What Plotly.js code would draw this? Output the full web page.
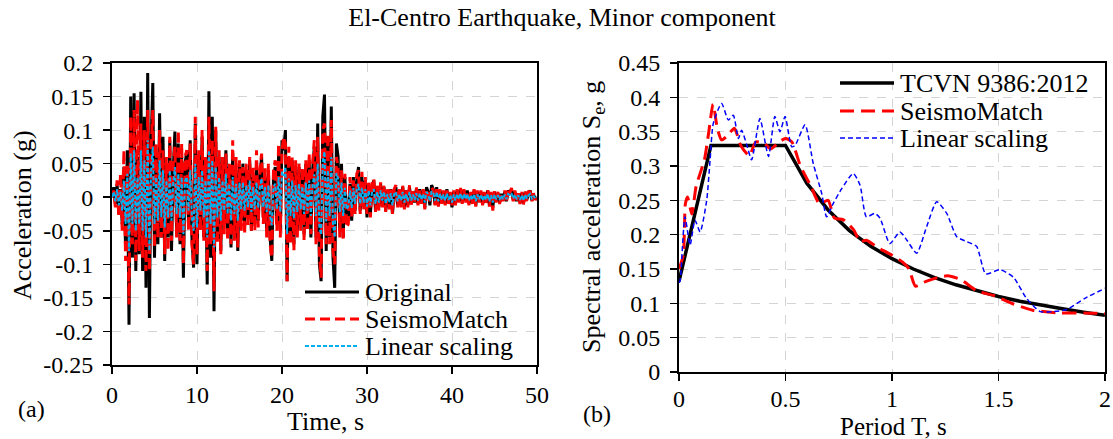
<!DOCTYPE html>
<html><head><meta charset="utf-8">
<script src="https://cdn.plot.ly/plotly-3.0.1.min.js"></script>
<style>html,body{margin:0;padding:0;background:#fff}#chart{width:1113px;height:439px}</style>
</head><body><div id="chart"></div>
<script>
const chartTitle = "El-Centro Earthquake, Minor component";

// ---- Panel (a): acceleration time histories (sampled every 0.2 s from t = 0) ----
const timeStart = 0;
const timeStep = 0.2;
const accOriginal = [
 0.000, 0.015,-0.010, 0.020,-0.025, 0.012,-0.040, 0.045,-0.080, 0.070,
-0.190, 0.150,-0.090, 0.155,-0.110, 0.060,-0.085, 0.157,-0.110, 0.120,
-0.135, 0.185,-0.180, 0.080, 0.170,-0.090, 0.060,-0.070, 0.125,-0.060,
 0.090,-0.095, 0.050,-0.060, 0.085,-0.080, 0.040, 0.098,-0.050, 0.080,
-0.070, 0.060,-0.120, 0.050, 0.070,-0.040, 0.085,-0.060,-0.105, 0.110,
-0.100, 0.060,-0.040, 0.090,-0.060, 0.050,-0.130, 0.158,-0.090, 0.120,
-0.170, 0.100,-0.060, 0.060,-0.080, 0.055,-0.040, 0.070,-0.050, 0.045,
-0.075, 0.065,-0.055, 0.040,-0.080, 0.045,-0.035, 0.050,-0.045, 0.040,
-0.030, 0.055,-0.050, 0.030,-0.040, 0.048,-0.035, 0.030, 0.060,-0.030,
 0.030,-0.050, 0.040,-0.060,-0.095, 0.030, 0.045,-0.040, 0.065,-0.050,
 0.085, 0.070, 0.100,-0.125, 0.060,-0.060, 0.055,-0.070, 0.040,-0.050,
 0.045,-0.040, 0.035,-0.055, 0.050,-0.045, 0.055,-0.060, 0.040, 0.075,
-0.060, 0.110,-0.100,-0.125, 0.120, 0.153,-0.080, 0.090,-0.060, 0.135,
-0.090,-0.135, 0.080, 0.060,-0.050, 0.050,-0.060, 0.030,-0.040,-0.030,
 0.020,-0.035, 0.030,-0.020, 0.025, 0.045,-0.020, 0.030,-0.015, 0.025,
-0.030, 0.020,-0.025, 0.015, 0.025,-0.020, 0.015,-0.015, 0.020,-0.010,
 0.015,-0.020, 0.010,-0.015, 0.012,-0.025, 0.010, 0.015,-0.012, 0.010,
-0.010, 0.015,-0.015, 0.010,-0.012, 0.015,-0.010, 0.008,-0.008, 0.012,
-0.010, 0.012,-0.008, 0.010,-0.015, 0.015, 0.008,-0.012, 0.018, 0.012,
-0.010, 0.015,-0.012, 0.010,-0.008, 0.008,-0.010, 0.012,-0.008, 0.006,
-0.015, 0.008,-0.010, 0.010,-0.006, 0.012,-0.008, 0.010,-0.005, 0.010,
-0.010, 0.006,-0.008, 0.010,-0.012, 0.008,-0.006, 0.008,-0.010, 0.006,
-0.008, 0.010,-0.012, 0.006,-0.015, 0.008,-0.006, 0.006,-0.008, 0.005,
-0.005, 0.008,-0.006, 0.010, 0.005, 0.012,-0.004, 0.008,-0.006, 0.005,
-0.008, 0.006,-0.010, 0.008,-0.004, 0.006, 0.010,-0.005, 0.004,-0.003,
 0.000];
const accSeismoMatch = [
 0.000, 0.010,-0.015, 0.025,-0.030, 0.035,-0.050, 0.070,-0.095, 0.050,
-0.160, 0.120,-0.070, 0.130,-0.095, 0.145,-0.080, 0.110,-0.090, 0.100,
-0.110, 0.130,-0.110, 0.070, 0.130,-0.075, 0.080,-0.060, 0.100,-0.060,
 0.070,-0.085, 0.060,-0.080, 0.090,-0.065, 0.050, 0.075,-0.060, 0.100,
-0.065, 0.080,-0.100, 0.060, 0.070,-0.050, 0.080,-0.070,-0.100, 0.120,
-0.085, 0.070,-0.050, 0.100,-0.065, 0.060,-0.110, 0.120,-0.070, 0.085,
-0.140, 0.105,-0.070, 0.070,-0.085, 0.060,-0.055, 0.065,-0.065, 0.050,
-0.070, 0.085,-0.065, 0.060,-0.075, 0.055,-0.050, 0.045,-0.055, 0.050,
-0.045, 0.060,-0.050, 0.045,-0.050, 0.070,-0.045, 0.040, 0.065,-0.040,
 0.045,-0.060, 0.050,-0.070,-0.090, 0.040, 0.055,-0.050, 0.080,-0.060,
 0.070, 0.090, 0.080,-0.125, 0.075,-0.070, 0.060,-0.080, 0.055,-0.060,
 0.050,-0.050, 0.045,-0.065, 0.055,-0.050, 0.065,-0.055, 0.050, 0.085,
-0.070, 0.090,-0.085,-0.120, 0.100, 0.110,-0.070, 0.095,-0.070, 0.115,
-0.080,-0.100, 0.060, 0.045,-0.060, 0.040,-0.065, 0.035,-0.045,-0.040,
 0.030,-0.030, 0.025,-0.025, 0.035, 0.040,-0.025, 0.038,-0.020, 0.030,
-0.025, 0.025,-0.030, 0.020, 0.028,-0.022, 0.018,-0.020, 0.022,-0.015,
 0.018,-0.022, 0.012,-0.018, 0.015,-0.025, 0.012, 0.018,-0.015, 0.012,
-0.015, 0.018,-0.018, 0.012,-0.015, 0.018,-0.012, 0.010,-0.010, 0.015,
-0.012, 0.010,-0.010, 0.012,-0.018, 0.012, 0.010,-0.010, 0.015, 0.010,
-0.012, 0.012,-0.014, 0.012,-0.010, 0.010,-0.012, 0.010,-0.010, 0.008,
-0.012, 0.010,-0.012, 0.012,-0.008, 0.014,-0.010, 0.012,-0.008, 0.008,
-0.012, 0.008,-0.010, 0.012,-0.014, 0.010,-0.008, 0.010,-0.012, 0.008,
-0.010, 0.012,-0.014, 0.008,-0.020, 0.010,-0.008, 0.008,-0.010, 0.006,
-0.006, 0.010,-0.008, 0.012, 0.006, 0.014,-0.006, 0.010,-0.008, 0.006,
-0.010, 0.008,-0.012, 0.010,-0.006, 0.008, 0.008,-0.006, 0.006,-0.004,
 0.000];
const accLinear = [
 0.000, 0.008,-0.006, 0.012,-0.012, 0.008,-0.020, 0.025,-0.040, 0.035,
-0.080, 0.065,-0.040, 0.070,-0.050, 0.030,-0.040, 0.070,-0.050, 0.055,
-0.060, 0.085,-0.080, 0.040, 0.075,-0.040, 0.030,-0.035, 0.055,-0.030,
 0.040,-0.045, 0.025,-0.030, 0.040,-0.035, 0.020, 0.045,-0.025, 0.035,
-0.030, 0.030,-0.055, 0.025, 0.030,-0.020, 0.040,-0.030,-0.050, 0.050,
-0.045, 0.030,-0.020, 0.040,-0.030, 0.025,-0.060, 0.070,-0.040, 0.055,
-0.075, 0.045,-0.030, 0.030,-0.035, 0.025,-0.020, 0.035,-0.025, 0.020,
-0.035, 0.030,-0.025, 0.020,-0.035, 0.022,-0.018, 0.022,-0.020, 0.018,
-0.015, 0.025,-0.022, 0.015,-0.018, 0.022,-0.016, 0.015, 0.028,-0.015,
 0.015,-0.022, 0.018,-0.028,-0.042, 0.015, 0.020,-0.018, 0.030,-0.022,
 0.038, 0.032, 0.045,-0.055, 0.028,-0.028, 0.025,-0.032, 0.018,-0.022,
 0.020,-0.018, 0.016,-0.025, 0.022,-0.020, 0.025,-0.028, 0.018, 0.034,
-0.028, 0.050,-0.045,-0.056, 0.054, 0.068,-0.036, 0.040,-0.028, 0.060,
-0.040,-0.060, 0.036, 0.028,-0.022, 0.022,-0.028, 0.014,-0.018,-0.014,
 0.010,-0.016, 0.014,-0.010, 0.012, 0.020,-0.010, 0.014,-0.008, 0.012,
-0.014, 0.010,-0.012, 0.008, 0.012,-0.010, 0.008,-0.008, 0.010,-0.005,
 0.008,-0.010, 0.005,-0.008, 0.006,-0.012, 0.005, 0.008,-0.006, 0.005,
-0.005, 0.008,-0.008, 0.005,-0.006, 0.008,-0.005, 0.004,-0.004, 0.006,
-0.005, 0.006,-0.004, 0.005,-0.008, 0.008, 0.004,-0.006, 0.009, 0.006,
-0.005, 0.008,-0.006, 0.005,-0.004, 0.004,-0.005, 0.006,-0.004, 0.003,
-0.008, 0.004,-0.005, 0.005,-0.003, 0.006,-0.004, 0.005,-0.003, 0.005,
-0.005, 0.003,-0.004, 0.005,-0.006, 0.004,-0.003, 0.004,-0.005, 0.003,
-0.004, 0.005,-0.006, 0.003,-0.008, 0.004,-0.003, 0.003,-0.004, 0.003,
-0.003, 0.004,-0.003, 0.005, 0.003, 0.006,-0.002, 0.004,-0.003, 0.003,
-0.004, 0.003,-0.005, 0.004,-0.002, 0.003, 0.005,-0.003, 0.002,-0.002,
 0.000];
const timeTickVals = [0, 10, 20, 30, 40, 50];
const timeTickText = ["0", "10", "20", "30", "40", "50"];
const accTickVals = [0.2, 0.15, 0.1, 0.05, 0, -0.05, -0.1, -0.15, -0.2, -0.25];
const accTickText = ["0.2", "0.15", "0.1", "0.05", "0", "-0.05", "-0.1", "-0.15", "-0.2", "-0.25"];

// ---- Panel (b): response spectra ----
const periodCode = [0, 0.15, 0.5, 0.6, 0.7, 0.8, 0.9, 1.0, 1.1, 1.2, 1.3, 1.4, 1.5, 1.6, 1.7, 1.8, 1.9, 2.0];
const saCode     = [0.132, 0.33, 0.33, 0.275, 0.236, 0.206, 0.183, 0.165, 0.150, 0.1375, 0.127, 0.118, 0.110, 0.103, 0.097, 0.092, 0.087, 0.0825];
const periodSM = [0, 0.02, 0.03, 0.04, 0.06, 0.08, 0.10, 0.12, 0.14, 0.16,
                  0.18, 0.20, 0.23, 0.26, 0.29, 0.33, 0.36, 0.40, 0.43, 0.47,
                  0.50, 0.53, 0.57, 0.62, 0.66, 0.70, 0.73, 0.77, 0.82, 0.85,
                  0.88, 0.93, 1.00, 1.05, 1.08, 1.11, 1.16, 1.22, 1.26, 1.32,
                  1.40, 1.48, 1.57, 1.66, 1.79, 1.90, 2.00];
const saSM = [0.150, 0.170, 0.245, 0.255, 0.230, 0.270, 0.290, 0.310, 0.350, 0.390,
              0.355, 0.338, 0.345, 0.355, 0.330, 0.315, 0.335, 0.333, 0.325, 0.335,
              0.340, 0.335, 0.300, 0.270, 0.245, 0.250, 0.224, 0.222, 0.207, 0.190,
              0.192, 0.182, 0.170, 0.160, 0.150, 0.125, 0.132, 0.138, 0.140, 0.135,
              0.118, 0.111, 0.099, 0.090, 0.086, 0.086, 0.085];
const periodLin = [0, 0.005, 0.028, 0.052, 0.075, 0.099, 0.13, 0.146, 0.161, 0.20,
                   0.232, 0.255, 0.279, 0.294, 0.318, 0.341, 0.38, 0.42, 0.45, 0.474,
                   0.498, 0.529, 0.545, 0.592, 0.63, 0.67, 0.693, 0.725, 0.764, 0.818,
                   0.85, 0.88, 0.92, 0.944, 0.99, 1.037, 1.07, 1.116, 1.163, 1.21,
                   1.257, 1.304, 1.35, 1.397, 1.44, 1.507, 1.57, 1.63, 1.695, 1.757,
                   1.82, 1.91, 2.0];
const saLin = [0.13, 0.133, 0.226, 0.185, 0.221, 0.204, 0.25, 0.309, 0.362, 0.391,
               0.367, 0.374, 0.34, 0.352, 0.331, 0.309, 0.369, 0.314, 0.372, 0.35,
               0.372, 0.328, 0.33, 0.36, 0.304, 0.26, 0.226, 0.246, 0.267, 0.289,
               0.272, 0.226, 0.231, 0.224, 0.187, 0.204, 0.192, 0.173, 0.212, 0.248,
               0.231, 0.197, 0.19, 0.183, 0.143, 0.149, 0.138, 0.108, 0.088, 0.088,
               0.091, 0.108, 0.122];
const periodTickVals = [0, 0.5, 1, 1.5, 2];
const periodTickText = ["0", "0.5", "1", "1.5", "2"];
const saTickVals = [0.45, 0.4, 0.35, 0.3, 0.25, 0.2, 0.15, 0.1, 0.05, 0];
const saTickText = ["0.45", "0.4", "0.35", "0.3", "0.25", "0.2", "0.15", "0.1", "0.05", "0"];

// ---- layout helpers ----
const W = 1113, H = 439;
const serif = "Liberation Serif, Times New Roman, serif";
const px = v => v / W;
const py = v => 1 - v / H;

function axis(extra) {
  return Object.assign({
    showline: true, mirror: true, linecolor: '#000', linewidth: 2,
    showgrid: true, gridcolor: '#d4d4d4', griddash: 'dash', gridwidth: 1,
    zeroline: false, ticks: 'outside', ticklen: 7, tickwidth: 1.5, tickcolor: '#000',
    tickfont: {family: serif, size: 24, color: '#000'}, tickmode: 'array',
    automargin: false, fixedrange: true
  }, extra);
}

const traces = [
  {type: 'scatter', mode: 'lines', name: 'Original', x0: timeStart, dx: timeStep, y: accOriginal,
   xaxis: 'x', yaxis: 'y', line: {color: '#000000', width: 3}},
  {type: 'scatter', mode: 'lines', name: 'SeismoMatch', x0: timeStart, dx: timeStep, y: accSeismoMatch,
   xaxis: 'x', yaxis: 'y', line: {color: '#ff0000', width: 3, dash: '10px,5px'}},
  {type: 'scatter', mode: 'lines', name: 'Linear scaling', x0: timeStart, dx: timeStep, y: accLinear,
   xaxis: 'x', yaxis: 'y', line: {color: '#00b0f0', width: 2, dash: '4px,2px'}},
  {type: 'scatter', mode: 'lines', name: 'TCVN 9386:2012', x: periodCode, y: saCode,
   xaxis: 'x2', yaxis: 'y2', line: {color: '#000000', width: 3.5}},
  {type: 'scatter', mode: 'lines', name: 'SeismoMatch', x: periodSM, y: saSM,
   xaxis: 'x2', yaxis: 'y2', line: {color: '#ff0000', width: 3, dash: '14px,7px', shape: 'spline', smoothing: 0.6}},
  {type: 'scatter', mode: 'lines', name: 'Linear scaling', x: periodLin, y: saLin,
   xaxis: 'x2', yaxis: 'y2', line: {color: '#0000ff', width: 1.5, dash: '5px,3px', shape: 'spline', smoothing: 0.6}}
];

// Legends drawn as key lines + labels, one block per panel (styles taken from the traces)
const legendBlocks = [
  {traceIdx: [0, 1, 2], keyX0: 305, keyX1: 359, textX: 364, rows: [292, 319, 346]},
  {traceIdx: [3, 4, 5], keyX0: 840, keyX1: 894, textX: 899, rows: [83, 111, 138]}
];
const shapes = [];
const annotations = [];
legendBlocks.forEach(b => {
  b.traceIdx.forEach((ti, k) => {
    const tr = traces[ti];
    shapes.push({type: 'line', xref: 'paper', yref: 'paper',
      x0: px(b.keyX0), x1: px(b.keyX1), y0: py(b.rows[k]), y1: py(b.rows[k]),
      line: {color: tr.line.color, width: tr.line.width, dash: tr.line.dash || 'solid'}});
    annotations.push({text: tr.name, xref: 'paper', yref: 'paper', x: px(b.textX), y: py(b.rows[k]),
      xanchor: 'left', yanchor: 'middle', showarrow: false, borderpad: 0,
      font: {family: serif, size: 26, color: '#000'}});
  });
});

annotations.push(
  {text: 'Acceleration (g)', xref: 'paper', yref: 'paper', x: px(22), y: py(215), textangle: -90,
   showarrow: false, xanchor: 'center', yanchor: 'middle', font: {family: serif, size: 26, color: '#000'}},
  {text: 'Time, s', xref: 'paper', yref: 'paper', x: px(325), y: 0,
   showarrow: false, xanchor: 'center', yanchor: 'bottom', yshift: 2, borderpad: 0, font: {family: serif, size: 26, color: '#000'}},
  {text: 'Spectral acceleration S<sub>e</sub>, g', xref: 'paper', yref: 'paper', x: px(593), y: py(217), textangle: -90,
   showarrow: false, xanchor: 'center', yanchor: 'middle', font: {family: serif, size: 26, color: '#000'}},
  {text: 'Period T, s', xref: 'paper', yref: 'paper', x: px(893), y: 0,
   showarrow: false, xanchor: 'center', yanchor: 'bottom', yshift: -2, borderpad: 0, font: {family: serif, size: 25, color: '#000'}},
  {text: '(a)', xref: 'paper', yref: 'paper', x: px(31), y: py(409),
   showarrow: false, xanchor: 'center', yanchor: 'middle', font: {family: serif, size: 24, color: '#000'}},
  {text: '(b)', xref: 'paper', yref: 'paper', x: px(597), y: py(414),
   showarrow: false, xanchor: 'center', yanchor: 'middle', font: {family: serif, size: 24, color: '#000'}}
);

const layout = {
  width: W, height: H,
  margin: {l: 0, r: 0, t: 0, b: 0},
  paper_bgcolor: '#fff', plot_bgcolor: '#fff',
  font: {family: serif, color: '#000'},
  title: {text: chartTitle, x: px(562), y: py(17), xanchor: 'center', yanchor: 'middle',
          font: {family: serif, size: 26, color: '#000'}},
  showlegend: false,
  xaxis: axis({domain: [px(112), px(537)], range: [0, 50], tickvals: timeTickVals, ticktext: timeTickText, anchor: 'y'}),
  yaxis: axis({domain: [py(365), py(63)], range: [-0.25, 0.2], tickvals: accTickVals, ticktext: accTickText, anchor: 'x', ticklabelstandoff: 5}),
  xaxis2: axis({domain: [px(679), px(1105)], range: [0, 2], tickvals: periodTickVals, ticktext: periodTickText, anchor: 'y2', ticklabelstandoff: -3}),
  yaxis2: axis({domain: [py(372), py(63)], range: [0, 0.45], tickvals: saTickVals, ticktext: saTickText, anchor: 'x2', ticklabelstandoff: 5}),
  shapes: shapes,
  annotations: annotations
};

Plotly.newPlot('chart', traces, layout, {displayModeBar: false, staticPlot: true});
</script>
</body></html>
